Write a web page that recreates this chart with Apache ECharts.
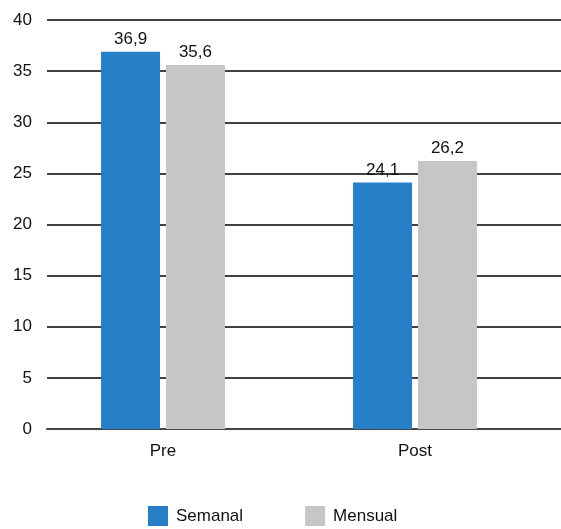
<!DOCTYPE html>
<html>
<head>
<meta charset="utf-8">
<script src="https://cdn.jsdelivr.net/npm/echarts@6/dist/echarts.min.js"></script>
<style>
  html, body { margin: 0; padding: 0; background: #fff; }
  #chart { width: 561px; height: 529px; }
</style>
</head>
<body>
<div id="chart"></div>
<script>
// Periods and the two frequencies compared
const categories = ['Pre', 'Post'];
const seriesNames = ['Semanal', 'Mensual'];
const semanal = [36.9, 24.1];
const mensual = [35.6, 26.2];
const yTicks = { min: 0, max: 40, interval: 5 };

const FONT = '"Liberation Sans", Arial, sans-serif';
const FS = 17;
const fmt = v => v.toFixed(1).replace('.', ',');

const chart = echarts.init(document.getElementById('chart'), null, { renderer: 'canvas' });

chart.setOption({
  animation: false,
  textStyle: { fontFamily: FONT, color: '#111' },
  grid: [
    // grid carrying the value scale and horizontal rules
    { left: 47, right: 0, top: 20, height: 409 },
    // grid carrying the bars
    { left: 37, right: 20, top: 20, height: 409 }
  ],
  legend: {
    data: seriesNames,
    left: 148,
    top: 506,
    padding: 0,
    itemWidth: 20,
    itemHeight: 20,
    itemGap: 62,
    icon: 'rect',
    textStyle: { fontFamily: FONT, fontSize: FS, color: '#111', padding: [0, 0, 0, 3] }
  },
  xAxis: [
    {
      gridIndex: 0, type: 'category', data: categories,
      axisLine: { show: true, lineStyle: { color: '#444', width: 2 } },
      axisTick: { show: false }, axisLabel: { show: false }, splitLine: { show: false }
    },
    {
      gridIndex: 1, type: 'category', data: categories,
      axisLine: { show: false }, axisTick: { show: false },
      axisLabel: { margin: 14, fontFamily: FONT, fontSize: FS, color: '#111' }
    }
  ],
  yAxis: [
    {
      gridIndex: 0, type: 'value', min: yTicks.min, max: yTicks.max, interval: yTicks.interval,
      axisLine: { show: false }, axisTick: { show: false },
      axisLabel: { margin: 15, fontFamily: FONT, fontSize: FS, color: '#111' },
      splitLine: { show: true, lineStyle: { color: '#000', width: 1.5 } }
    },
    {
      gridIndex: 1, type: 'value', min: yTicks.min, max: yTicks.max, interval: yTicks.interval,
      show: false, splitLine: { show: false }
    }
  ],
  series: [
    {
      name: seriesNames[0], type: 'bar', xAxisIndex: 1, yAxisIndex: 1,
      data: semanal, barWidth: 59, barGap: '10%',
      itemStyle: { color: '#2680c8' },
      label: { show: true, position: 'top', distance: 4, formatter: p => fmt(p.value),
               fontFamily: FONT, fontSize: FS, color: '#111' }
    },
    {
      name: seriesNames[1], type: 'bar', xAxisIndex: 1, yAxisIndex: 1,
      data: mensual, barWidth: 59, barGap: '10%',
      itemStyle: { color: '#c6c6c6' },
      label: { show: true, position: 'top', distance: 4, formatter: p => fmt(p.value),
               fontFamily: FONT, fontSize: FS, color: '#111' }
    }
  ]
});
</script>
</body>
</html>
